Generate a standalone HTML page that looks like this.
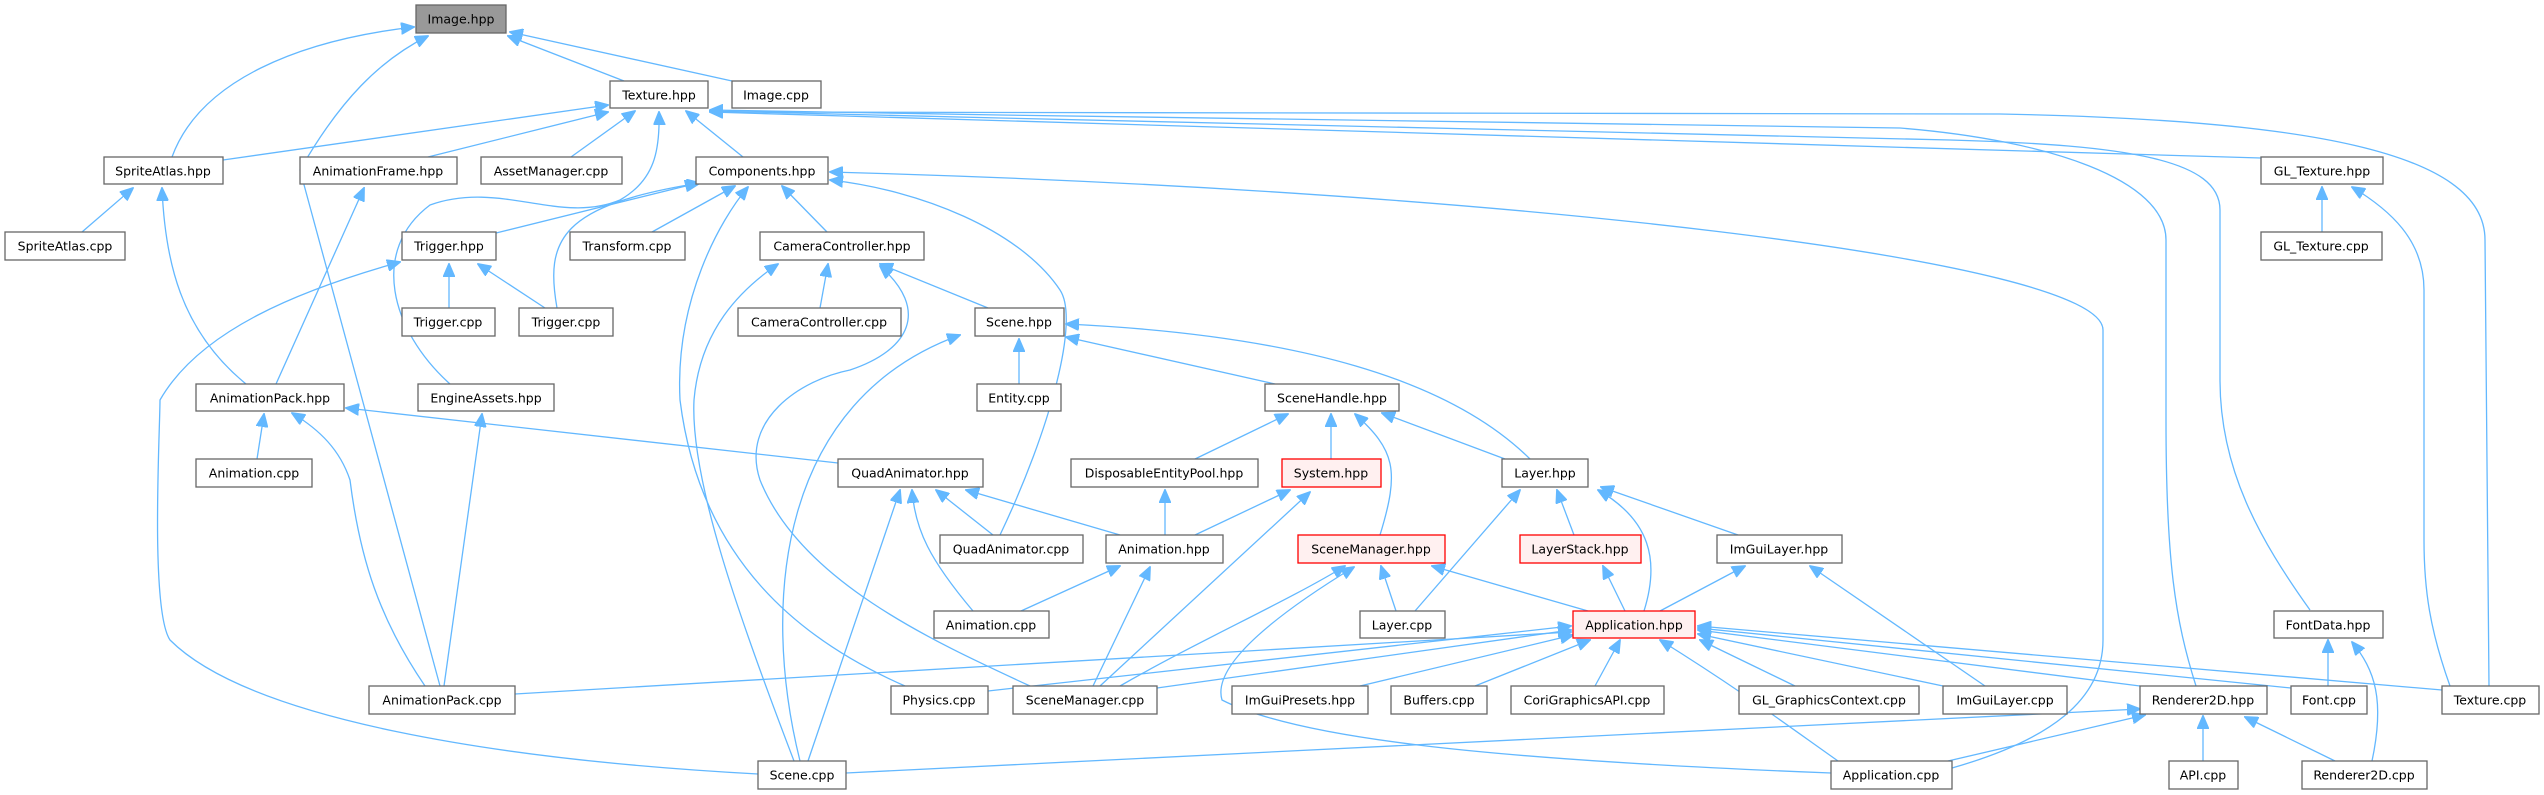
<!DOCTYPE html>
<html><head><meta charset="utf-8"><style>
html,body{margin:0;padding:0;background:#fff;}
svg{display:block;}
text{font-family:"DejaVu Sans","Liberation Sans",sans-serif;font-size:12.5px;fill:#000;text-anchor:middle;dominant-baseline:central;}
.n{fill:#fff;stroke:#666;stroke-width:1.3;}
.r{fill:#fff0f0;stroke:#ff0000;stroke-width:1.3;}
.g{fill:#999;stroke:#666;stroke-width:1.3;}
path{fill:none;stroke:#63b8ff;stroke-width:1.3;marker-end:url(#a);}
</style></head><body>
<svg width="2544" height="795" viewBox="0 0 2544 795" xmlns="http://www.w3.org/2000/svg">
<defs><marker id="a" markerUnits="userSpaceOnUse" markerWidth="14" markerHeight="12" refX="13" refY="6" orient="auto"><polygon points="0,0 14,6 0,12" fill="#63b8ff" stroke="#63b8ff"/></marker></defs>
<path d="M172,157 C200,80 300,40 414,27"/>
<path d="M440,686 L300,170 C340,100 380,60 428,36"/>
<path d="M624,81 L508,36"/>
<path d="M732,81 L510,32"/>
<path d="M223,160 L608,105"/>
<path d="M428,157 L608,112"/>
<path d="M571,157 L635,111"/>
<path d="M743,157 L686,111"/>
<path d="M450,384 C390,330 370,250 430,205 C500,180 560,225 620,200 C655,180 660,150 659,112"/>
<path d="M2196,686 C2175,620 2166,560 2166,420 L2166,240 C2166,180 2050,140 1900,128 L1000,115 L710,110"/>
<path d="M2310,610 C2260,540 2220,470 2220,380 L2220,210 C2220,160 2130,145 1950,140 L1000,118 L710,111"/>
<path d="M2261,158 L710,112"/>
<path d="M2489,686 L2485,240 C2485,150 2300,120 2000,114 L710,112"/>
<path d="M2322,232 L2322,187"/>
<path d="M2450,686 C2430,630 2424,590 2424,540 L2424,290 C2424,240 2390,210 2352,187"/>
<path d="M82,232 L133,188"/>
<path d="M246,384 C180,330 165,260 162,188"/>
<path d="M276,384 L364,188"/>
<path d="M496,233 L698,183"/>
<path d="M557,308 C545,240 560,205 700,183"/>
<path d="M652,232 L735,186"/>
<path d="M827,232 L782,186"/>
<path d="M905,686 C800,640 700,560 680,400 C675,300 720,220 748,187"/>
<path d="M1000,535 C1050,430 1080,320 1060,290 C1020,230 920,190 830,180"/>
<path d="M1952,768 C2050,740 2103,700 2103,640 L2103,330 C2103,260 1500,190 830,172"/>
<path d="M820,308 L828,264"/>
<path d="M988,308 L880,264"/>
<path d="M1030,686 C930,640 800,580 760,480 C740,420 800,380 850,370 C910,350 930,310 880,266"/>
<path d="M794,761 C740,620 690,480 694,400 C700,330 740,290 778,264"/>
<path d="M449,308 L449,264"/>
<path d="M545,308 L478,264"/>
<path d="M758,774 C500,760 250,720 170,640 C150,610 160,430 160,400 C200,330 300,290 400,262"/>
<path d="M1019,384 L1019,339"/>
<path d="M800,761 C760,600 780,400 960,335"/>
<path d="M1275,384 L1066,337"/>
<path d="M1530,459 C1450,380 1300,335 1066,324"/>
<path d="M1195,459 L1288,414"/>
<path d="M1331,459 L1331,414"/>
<path d="M1380,535 C1400,470 1395,450 1355,414"/>
<path d="M1505,459 L1382,413"/>
<path d="M257,459 L264,414"/>
<path d="M425,686 C380,620 360,560 350,480 C340,450 320,430 292,413"/>
<path d="M838,463 L346,408"/>
<path d="M444,686 L482,414"/>
<path d="M515,694 L1571,632"/>
<path d="M993,535 L936,490"/>
<path d="M1120,535 L966,490"/>
<path d="M973,611 C930,560 915,530 912,490"/>
<path d="M808,761 L900,490"/>
<path d="M1165,535 L1165,490"/>
<path d="M1195,535 L1290,490"/>
<path d="M1100,686 L1310,492"/>
<path d="M1021,611 L1120,566"/>
<path d="M1093,686 L1150,567"/>
<path d="M1120,686 C1200,640 1290,600 1345,566"/>
<path d="M1831,773 C1500,760 1300,740 1222,700 C1210,660 1300,600 1354,567"/>
<path d="M1396,611 L1381,566"/>
<path d="M1588,611 L1432,566"/>
<path d="M1415,611 L1520,490"/>
<path d="M1574,535 L1557,490"/>
<path d="M1644,611 C1660,560 1650,520 1598,490"/>
<path d="M1738,535 L1601,487"/>
<path d="M1625,611 L1603,566"/>
<path d="M1660,611 L1745,566"/>
<path d="M1985,686 L1810,566"/>
<path d="M988,691 L1571,626"/>
<path d="M1157,688 L1571,630"/>
<path d="M1360,686 L1573,635"/>
<path d="M1475,686 L1590,640"/>
<path d="M1595,686 L1620,640"/>
<path d="M1795,686 L1700,640"/>
<path d="M1943,686 L1698,634"/>
<path d="M2140,686 L1698,630"/>
<path d="M2291,688 L1698,628"/>
<path d="M2442,690 L1698,626"/>
<path d="M1838,761 C1780,720 1740,690 1660,640"/>
<path d="M846,773 L2140,709"/>
<path d="M1948,761 L2145,715"/>
<path d="M2203,761 L2203,716"/>
<path d="M2335,761 L2245,717"/>
<path d="M2328,686 L2328,640"/>
<path d="M2372,761 C2385,700 2375,670 2352,642"/>
<rect class="g" x="416" y="5" width="90" height="28"/><text x="461" y="19">Image.hpp</text>
<rect class="n" x="610" y="81" width="98" height="27"/><text x="659" y="95">Texture.hpp</text>
<rect class="n" x="732" y="81" width="89" height="27"/><text x="776" y="95">Image.cpp</text>
<rect class="n" x="104" y="157" width="119" height="27"/><text x="163" y="171">SpriteAtlas.hpp</text>
<rect class="n" x="300" y="157" width="157" height="27"/><text x="378" y="171">AnimationFrame.hpp</text>
<rect class="n" x="481" y="157" width="141" height="27"/><text x="551" y="171">AssetManager.cpp</text>
<rect class="n" x="696" y="157" width="132" height="27"/><text x="762" y="171">Components.hpp</text>
<rect class="n" x="2261" y="157" width="122" height="27"/><text x="2322" y="171">GL_Texture.hpp</text>
<rect class="n" x="5" y="232" width="120" height="28"/><text x="65" y="246">SpriteAtlas.cpp</text>
<rect class="n" x="402" y="232" width="94" height="28"/><text x="449" y="246">Trigger.hpp</text>
<rect class="n" x="570" y="232" width="115" height="28"/><text x="627" y="246">Transform.cpp</text>
<rect class="n" x="760" y="232" width="164" height="28"/><text x="842" y="246">CameraController.hpp</text>
<rect class="n" x="2261" y="232" width="121" height="28"/><text x="2321" y="246">GL_Texture.cpp</text>
<rect class="n" x="402" y="308" width="93" height="28"/><text x="448" y="322">Trigger.cpp</text>
<rect class="n" x="519" y="308" width="94" height="28"/><text x="566" y="322">Trigger.cpp</text>
<rect class="n" x="738" y="308" width="163" height="28"/><text x="819" y="322">CameraController.cpp</text>
<rect class="n" x="975" y="308" width="89" height="28"/><text x="1019" y="322">Scene.hpp</text>
<rect class="n" x="196" y="384" width="148" height="27"/><text x="270" y="398">AnimationPack.hpp</text>
<rect class="n" x="418" y="384" width="136" height="27"/><text x="486" y="398">EngineAssets.hpp</text>
<rect class="n" x="977" y="384" width="84" height="27"/><text x="1019" y="398">Entity.cpp</text>
<rect class="n" x="1265" y="384" width="134" height="27"/><text x="1332" y="398">SceneHandle.hpp</text>
<rect class="n" x="196" y="459" width="116" height="28"/><text x="254" y="473">Animation.cpp</text>
<rect class="n" x="838" y="459" width="145" height="28"/><text x="910" y="473">QuadAnimator.hpp</text>
<rect class="n" x="1071" y="459" width="187" height="28"/><text x="1164" y="473">DisposableEntityPool.hpp</text>
<rect class="r" x="1282" y="459" width="99" height="28"/><text x="1331" y="473">System.hpp</text>
<rect class="n" x="1502" y="459" width="86" height="28"/><text x="1545" y="473">Layer.hpp</text>
<rect class="n" x="940" y="535" width="143" height="28"/><text x="1011" y="549">QuadAnimator.cpp</text>
<rect class="n" x="1106" y="535" width="117" height="28"/><text x="1164" y="549">Animation.hpp</text>
<rect class="r" x="1298" y="535" width="147" height="28"/><text x="1371" y="549">SceneManager.hpp</text>
<rect class="r" x="1520" y="535" width="121" height="28"/><text x="1580" y="549">LayerStack.hpp</text>
<rect class="n" x="1717" y="535" width="125" height="28"/><text x="1779" y="549">ImGuiLayer.hpp</text>
<rect class="n" x="934" y="611" width="115" height="27"/><text x="991" y="625">Animation.cpp</text>
<rect class="n" x="1360" y="611" width="85" height="27"/><text x="1402" y="625">Layer.cpp</text>
<rect class="r" x="1573" y="611" width="122" height="27"/><text x="1634" y="625">Application.hpp</text>
<rect class="n" x="2274" y="611" width="109" height="27"/><text x="2328" y="625">FontData.hpp</text>
<rect class="n" x="369" y="686" width="146" height="28"/><text x="442" y="700">AnimationPack.cpp</text>
<rect class="n" x="891" y="686" width="97" height="28"/><text x="939" y="700">Physics.cpp</text>
<rect class="n" x="1013" y="686" width="144" height="28"/><text x="1085" y="700">SceneManager.cpp</text>
<rect class="n" x="1232" y="686" width="136" height="28"/><text x="1300" y="700">ImGuiPresets.hpp</text>
<rect class="n" x="1391" y="686" width="96" height="28"/><text x="1439" y="700">Buffers.cpp</text>
<rect class="n" x="1511" y="686" width="153" height="28"/><text x="1587" y="700">CoriGraphicsAPI.cpp</text>
<rect class="n" x="1739" y="686" width="180" height="28"/><text x="1829" y="700">GL_GraphicsContext.cpp</text>
<rect class="n" x="1943" y="686" width="124" height="28"/><text x="2005" y="700">ImGuiLayer.cpp</text>
<rect class="n" x="2140" y="686" width="127" height="28"/><text x="2203" y="700">Renderer2D.hpp</text>
<rect class="n" x="2291" y="686" width="76" height="28"/><text x="2329" y="700">Font.cpp</text>
<rect class="n" x="2442" y="686" width="97" height="28"/><text x="2490" y="700">Texture.cpp</text>
<rect class="n" x="758" y="761" width="88" height="28"/><text x="802" y="775">Scene.cpp</text>
<rect class="n" x="1831" y="761" width="121" height="28"/><text x="1891" y="775">Application.cpp</text>
<rect class="n" x="2169" y="761" width="69" height="28"/><text x="2203" y="775">API.cpp</text>
<rect class="n" x="2302" y="761" width="125" height="28"/><text x="2364" y="775">Renderer2D.cpp</text>
</svg>
</body></html>
